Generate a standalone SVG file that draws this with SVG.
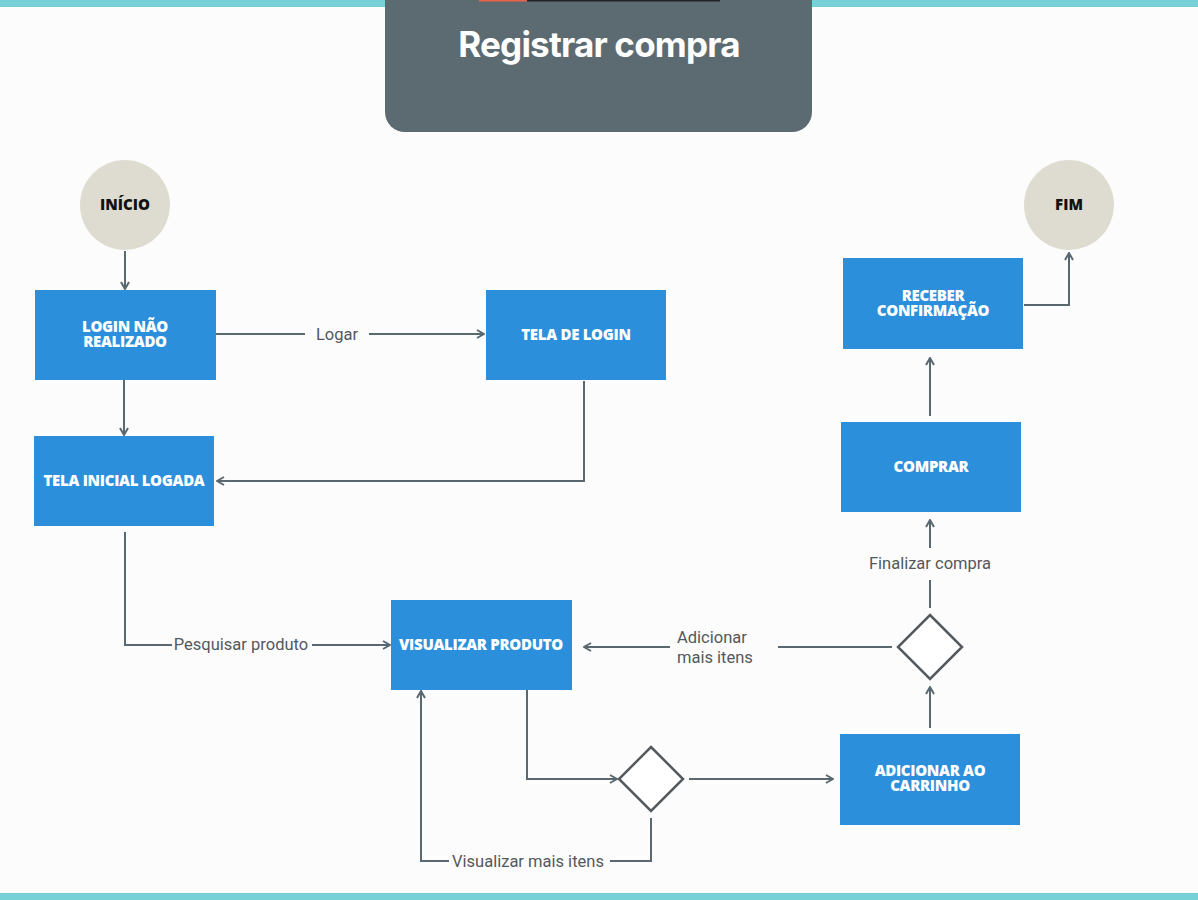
<svg xmlns="http://www.w3.org/2000/svg" width="1198" height="900" viewBox="0 0 1198 900">
<style>
.box{fill:#2b8fdb}
.term{fill:#dedcd0}
.nt{font-family:"Open Sans","Liberation Sans",sans-serif;font-weight:800;font-size:15px;fill:#ffffff;text-anchor:middle;letter-spacing:-0.3px}
.tt{font-family:"Open Sans","Liberation Sans",sans-serif;font-weight:800;font-size:15px;fill:#111111;text-anchor:middle}
.lbl{font-family:"Roboto","Liberation Sans",sans-serif;font-size:16.5px;fill:#53585d}
.c{fill:none;stroke:#5a6870;stroke-width:2}
.dia{fill:#ffffff;stroke:#555a5e;stroke-width:2.5}
</style>
<defs>
<marker id="arr" viewBox="0 0 10 10" refX="9" refY="5" markerWidth="10" markerHeight="10" markerUnits="userSpaceOnUse" orient="auto">
<path d="M2,1 L9,5 L2,9" fill="none" stroke="#5a6870" stroke-width="2"/>
</marker>
</defs>
<rect x="0" y="0" width="1198" height="900" fill="#fcfcfc"/>
<rect x="0" y="0" width="1198" height="7" fill="#76d1d6"/>
<rect x="0" y="893" width="1198" height="7" fill="#76d1d6"/>
<g id="header">
<path d="M385,0 H812 V112 A20,20 0 0 1 792,132 H405 A20,20 0 0 1 385,112 Z" fill="#5c6b72"/>
<rect x="479" y="0" width="48" height="1.5" fill="#e8634a"/>
<rect x="527" y="0" width="193" height="1.5" fill="#222222"/>
<text x="599" y="57" font-family="Inter,'Liberation Sans',sans-serif" font-weight="700" font-size="35" fill="#ffffff" text-anchor="middle" letter-spacing="-0.8">Registrar compra</text>
</g>
<g id="connectors">
<path class="c" d="M125,251 V289" marker-end="url(#arr)"/>
<path class="c" d="M216,334 H305"/>
<path class="c" d="M369,334 H484" marker-end="url(#arr)"/>
<path class="c" d="M124,380 V435" marker-end="url(#arr)"/>
<path class="c" d="M584,381 V481 H217" marker-end="url(#arr)"/>
<path class="c" d="M125,532 V645 H172"/>
<path class="c" d="M312,645 H390" marker-end="url(#arr)"/>
<path class="c" d="M527,690 V779 H617" marker-end="url(#arr)"/>
<path class="c" d="M689,779 H833" marker-end="url(#arr)"/>
<path class="c" d="M651,818 V861 H610"/>
<path class="c" d="M449,861 H421 V691" marker-end="url(#arr)"/>
<path class="c" d="M930,728 V687" marker-end="url(#arr)"/>
<path class="c" d="M892,647 H778"/>
<path class="c" d="M670,647 H584" marker-end="url(#arr)"/>
<path class="c" d="M930,608 V580"/>
<path class="c" d="M930,548 V520" marker-end="url(#arr)"/>
<path class="c" d="M930,416 V358" marker-end="url(#arr)"/>
<path class="c" d="M1024,305 H1069 V253" marker-end="url(#arr)"/>
<text class="lbl" x="337" y="340" text-anchor="middle">Logar</text>
<text class="lbl" x="241" y="650" text-anchor="middle">Pesquisar produto</text>
<text class="lbl" x="677" y="643">Adicionar</text>
<text class="lbl" x="677" y="663">mais itens</text>
<text class="lbl" x="930" y="569" text-anchor="middle">Finalizar compra</text>
<text class="lbl" x="528" y="867" text-anchor="middle">Visualizar mais itens</text>
</g>
<g id="inicio">
<circle class="term" cx="125" cy="205" r="45"/>
<text class="tt" x="125" y="210">INÍCIO</text>
</g>
<g id="fim">
<circle class="term" cx="1069" cy="205" r="45"/>
<text class="tt" x="1069" y="210">FIM</text>
</g>
<g id="login-nao-realizado">
<rect class="box" x="35" y="290" width="181" height="90"/>
<text class="nt" x="125" y="332">LOGIN NÃO</text>
<text class="nt" x="125" y="347">REALIZADO</text>
</g>
<g id="tela-de-login">
<rect class="box" x="486" y="290" width="180" height="90"/>
<text class="nt" x="576" y="340">TELA DE LOGIN</text>
</g>
<g id="tela-inicial-logada">
<rect class="box" x="34" y="436" width="180" height="90"/>
<text class="nt" x="124" y="486">TELA INICIAL LOGADA</text>
</g>
<g id="visualizar-produto">
<rect class="box" x="391" y="600" width="181" height="90"/>
<text class="nt" x="481" y="650">VISUALIZAR PRODUTO</text>
</g>
<g id="decisao-1">
<polygon class="dia" points="651,747 683,779 651,811 619,779"/>
</g>
<g id="adicionar-ao-carrinho">
<rect class="box" x="840" y="734" width="180" height="91"/>
<text class="nt" x="930" y="776">ADICIONAR AO</text>
<text class="nt" x="930" y="791">CARRINHO</text>
</g>
<g id="decisao-2">
<polygon class="dia" points="930,615 962,647 930,679 898,647"/>
</g>
<g id="comprar">
<rect class="box" x="841" y="422" width="180" height="90"/>
<text class="nt" x="931" y="472">COMPRAR</text>
</g>
<g id="receber-confirmacao">
<rect class="box" x="843" y="258" width="180" height="91"/>
<text class="nt" x="933" y="301">RECEBER</text>
<text class="nt" x="933" y="316">CONFIRMAÇÃO</text>
</g>
</svg>
